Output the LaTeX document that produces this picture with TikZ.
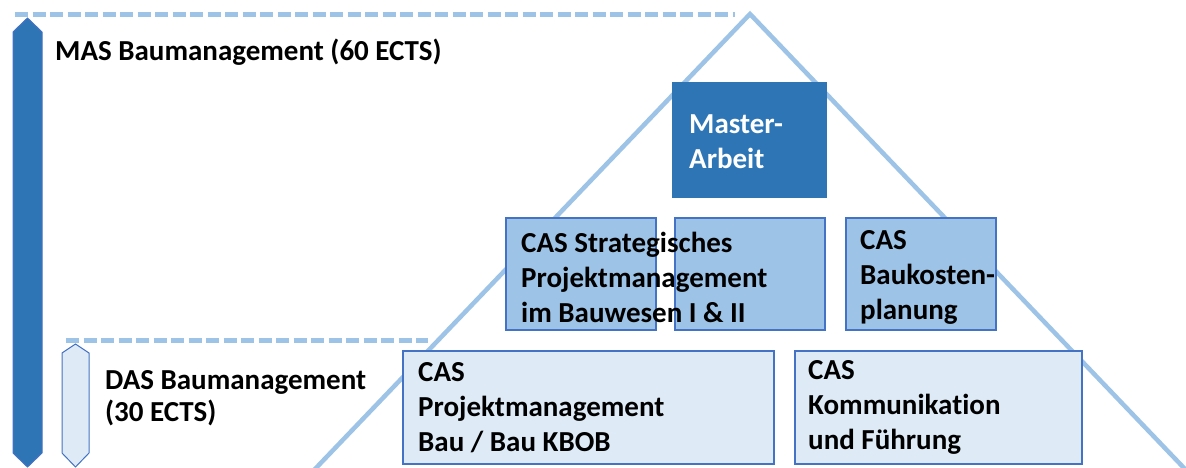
\documentclass[tikz,border=0pt]{standalone}
\usepackage{fontspec}
\setmainfont{Carlito}[Ligatures=CommonOff]
\usetikzlibrary{calc, positioning}
\definecolor{darkblue}{HTML}{2E75B6}
\definecolor{midblue}{HTML}{9DC3E6}
\definecolor{paleblue}{HTML}{DEEBF7}
\definecolor{edgeblue}{HTML}{4472C4}

\begin{document}
\begin{tikzpicture}[x=1pt, y=-1pt]
  \tikzstyle{module}=[draw=edgeblue, line width=1.5pt, inner sep=0pt, outer sep=0pt, anchor=north west]
  \tikzstyle{label text}=[font=\fontsize{29}{35}\selectfont\bfseries, align=left, inner sep=0pt, anchor=west]
  \tikzstyle{level line}=[midblue, line width=5pt, dash pattern=on 13pt off 4.5pt]

  \useasboundingbox (0,0) rectangle (1186,468);
  \clip (0,0) rectangle (1186,468);

  % pyramid
  \coordinate (apex) at (750,14);
  \coordinate (foot L) at (295,490);
  \coordinate (foot R) at (1205,490);
  \draw [midblue, line width=4.5pt, line join=miter] (foot L) -- (apex) -- (foot R);

  % levels
  \coordinate (mas l) at (15,15);
  \coordinate (mas r) at (735,15);
  \coordinate (das l) at (66,340);
  \coordinate (das r) at (428,340);
  \draw [level line] (mas l) -- (mas r);
  \draw [level line] (das l) -- (das r);

  % bars
  \draw [fill=darkblue, draw=edgeblue, line width=1pt]
    (13,32) -- (27.5,18) -- (42,32) -- (42,453) -- (27.5,467) -- (13,453) -- cycle;
  \draw [fill=paleblue, draw=edgeblue, line width=1pt]
    (62,353) -- (75.5,344) -- (89,353) -- (89,453) -- (75.5,467) -- (62,453) -- cycle;

  \node [label text] (mas) at (55,52) {MAS Baumanagement (60 ECTS)};
  \node [label text, font=\fontsize{29}{32}\selectfont\bfseries] (das) at (105,398) {DAS Baumanagement\\(30 ECTS)};

  % modules
  \node [module, fill=darkblue, draw=darkblue, minimum width=153, minimum height=114] (master) at (673,83) {};
  \node [module, fill=midblue, minimum width=150, minimum height=112] (strat a) at (506,218) {};
  \node [module, fill=midblue, minimum width=150, minimum height=112] (strat b) at (675,218) {};
  \node [module, fill=midblue, minimum width=150, minimum height=112] (kosten) at (846,218) {};
  \node [module, fill=paleblue, minimum width=371, minimum height=113] (pm) at (403,351) {};
  \node [module, fill=paleblue, minimum width=287, minimum height=113] (kom) at (795,351) {};

  \node [label text, text=white] (master text) at ([xshift=16,yshift=-2]master.west) {Master-\\Arbeit};
  \node [label text] (strat text) at ([xshift=15,yshift=-3]strat a.west) {CAS Strategisches\\Projektmanagement\\im Bauwesen I \& II};
  \node [label text] (kosten text) at ([xshift=14,yshift=-3]kosten.west) {CAS\\Baukosten-\\planung};
  \node [label text] (pm text) at ([xshift=15]pm.west) {CAS\\Projektmanagement\\Bau / Bau KBOB};
  \node [label text] (kom text) at ([xshift=13]kom.west) {CAS\\Kommunikation\\und Führung};
\end{tikzpicture}
\end{document}
